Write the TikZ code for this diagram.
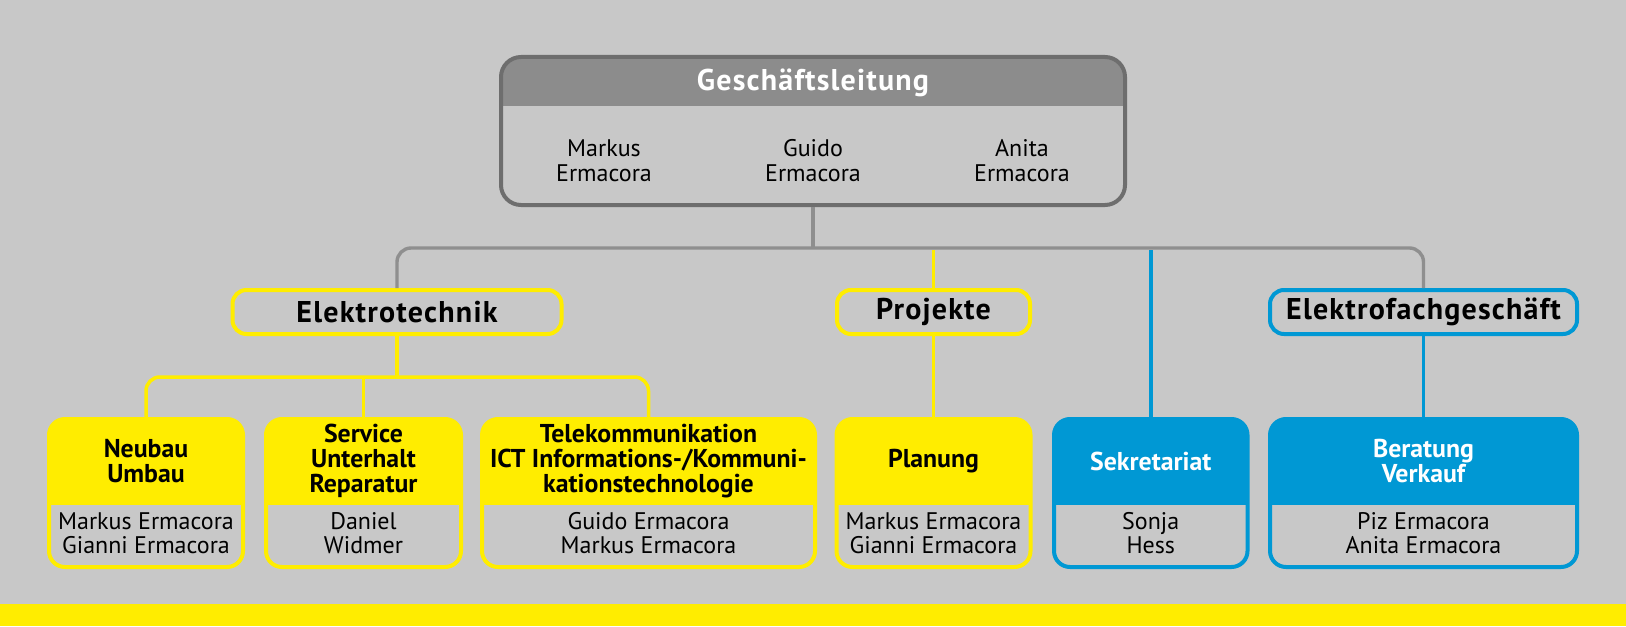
\documentclass[tikz,border=0pt]{standalone}
\usepackage{fontspec}
\setmainfont{PT Sans}
\usetikzlibrary{positioning}
\definecolor{bg}{HTML}{C8C8C8}
\definecolor{yel}{HTML}{FFED00}
\definecolor{blu}{HTML}{0098D4}
\definecolor{hgray}{HTML}{8C8C8C}
\definecolor{dgray}{HTML}{6E6E6E}
\definecolor{lgray}{HTML}{8F8F8F}

\begin{document}
\begin{tikzpicture}[x=0.5pt, y=-0.5pt,
  unit/.style 2 args={draw=#1, fill=bg, line width=2pt, rounded corners=8pt, inner sep=0pt, minimum height=74pt,
    path picture={\fill[#1, sharp corners] (path picture bounding box.north west) rectangle ([yshift=-#2]path picture bounding box.north east);}},
  dept/.style={draw=#1, fill=bg, line width=2pt, rounded corners=7pt, inner sep=0pt, minimum height=22pt,
    font=\fontsize{15}{16}\selectfont\bfseries\addfontfeature{LetterSpace=4}},
  teamhead/.style={align=center, inner sep=0pt, font=\fontsize{12.9}{12.5}\selectfont\bfseries},
  people/.style={align=center, inner sep=0pt, font=\fontsize{12}{12.25}\selectfont},
  gline/.style={draw=lgray, line width=1.7pt},
  yline/.style={draw=yel, line width=1.75pt},
  bline/.style={draw=blu, line width=1.75pt}]

% Background and bottom bar
\fill[bg] (0,0) rectangle (1626,626);
\fill[yel] (0,604) rectangle (1626,626);
\useasboundingbox (0,0) rectangle (1626,626);

% Geschaeftsleitung
\node (gl) [unit={hgray}{24.5pt}, draw=dgray, rounded corners=10pt, minimum width=312pt] at (813, 131) {};
\node (gl-t) [inner sep=0pt, text=white, font=\fontsize{15}{16}\selectfont\bfseries\addfontfeature{LetterSpace=4}] at (813, 83) {Geschäftsleitung};
\node (gl-a) [people] at (604, 160.5) {Markus\\Ermacora};
\node (gl-b) [people] at (813, 160.5) {Guido\\Ermacora};
\node (gl-c) [people] at (1022, 160.5) {Anita\\Ermacora};

% Departments
\node (et) [dept=yel, minimum width=164.5pt] at (397, 312) {Elektrotechnik};
\node (pj) [dept=yel, minimum width=96.5pt] at (933.5, 312) {Projekte};
\node (ef) [dept=blu, minimum width=153.5pt] at (1423.5, 312) {Elektrofachgeschäft};

% Units
\node (nb) [unit={yel}{43pt}, minimum width=97pt] at (146, 493) {};
\node (sv) [unit={yel}{43pt}, minimum width=97.5pt] at (363.5, 493) {};
\node (tk) [unit={yel}{43pt}, minimum width=166.5pt] at (648.5, 493) {};
\node (pl) [unit={yel}{43pt}, minimum width=97pt] at (933.5, 493) {};
\node (sk) [unit={blu}{43pt}, minimum width=96.75pt] at (1150.75, 493) {};
\node (bv) [unit={blu}{43pt}, minimum width=153.5pt] at (1423.5, 493) {};

\node (nb-t) [teamhead] at (146, 461) {Neubau\\Umbau};
\node (sv-t) [teamhead] at (363.5, 461) {Service\\Unterhalt\\Reparatur};
\node (tk-t) [teamhead] at (648.5, 461) {Telekommunikation\\ICT Informations-/Kommuni-\\kationstechnologie};
\node (pl-t) [teamhead] at (933.5, 461) {Planung};
\node (sk-t) [teamhead, text=white] at (1150.75, 461) {Sekretariat};
\node (bv-t) [teamhead, text=white] at (1423.5, 461) {Beratung\\Verkauf};

\node (nb-n) [people] at (146, 533) {Markus Ermacora\\Gianni Ermacora};
\node (sv-n) [people] at (363.5, 533) {Daniel\\Widmer};
\node (tk-n) [people] at (648.5, 533) {Guido Ermacora\\Markus Ermacora};
\node (pl-n) [people] at (933.5, 533) {Markus Ermacora\\Gianni Ermacora};
\node (sk-n) [people] at (1150.75, 533) {Sonja\\Hess};
\node (bv-n) [people] at (1423.5, 533) {Piz Ermacora\\Anita Ermacora};

% Edges
\coordinate (bus) at (813, 248);
\draw[gline] (gl.south) -- (bus);
\draw[gline, rounded corners=7pt] (et.north) |- (bus) -| (ef.north);
\coordinate (pj-in) at (933.5, 250);
\draw[yline] (pj-in) -- (pj.north);
\draw[yline] (pj.south) -- (pl.north);
\coordinate (sk-in) at (1150.75, 250);
\draw[bline] (sk-in) -- (sk.north);
\draw[bline] (ef.south) -- (bv.north);
\coordinate (ybus) at (397, 377);
\draw[yline] (et.south) -- (ybus);
\draw[yline, rounded corners=7pt] (nb.north) |- (ybus) -| (tk.north);
\draw[yline] (sv.north) -- (sv.north |- ybus);

\end{tikzpicture}
\end{document}
